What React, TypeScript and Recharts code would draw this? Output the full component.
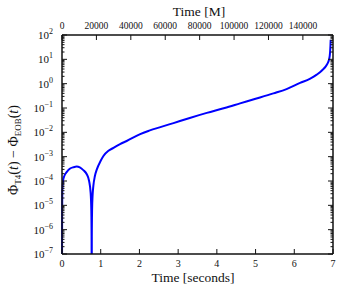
import { LineChart, Line, XAxis, YAxis } from "recharts";

// phase difference between T4 and EOB waveforms
const timeSec = [
  0, 0.003, 0.01, 0.03, 0.06, 0.12, 0.2, 0.3, 0.38, 0.46, 0.55, 0.64, 0.7, 0.74, 0.757, 0.764, 0.767,
  0.77, 0.777, 0.79, 0.81, 0.85, 0.9, 1.0, 1.07, 1.2, 1.33, 1.5, 1.67, 2.02, 2.27, 2.88, 3.3, 3.74, 4.2,
  4.6, 5.0, 5.46, 5.8, 6.15, 6.4, 6.58, 6.72, 6.84, 6.9, 6.925, 6.935, 6.94,
];
const phaseDiff = [
  1e-9, 3.2e-6, 4.5e-5, 1.1e-4, 1.6e-4, 2.3e-4, 3.2e-4, 3.7e-4, 3.9e-4, 3.6e-4, 2.8e-4, 1.9e-4, 1e-4,
  3.2e-5, 6.3e-6, 5e-7, 1e-9, 5e-7, 6.3e-6, 2.5e-5, 6.3e-5, 1.6e-4, 3e-4, 6.8e-4, 1.07e-3, 1.74e-3,
  2.3e-3, 3.3e-3, 4.4e-3, 8.5e-3, 0.012, 0.024, 0.039, 0.063, 0.1, 0.155, 0.24, 0.4, 0.6, 1.07, 1.58,
  2.34, 3.55, 6.0, 10, 20, 40, 63,
];

const secondsTicks = [0, 1, 2, 3, 4, 5, 6, 7];
const massTicks = [0, 20000, 40000, 60000, 80000, 100000, 120000, 140000];
const M_PER_SEC = 22500;
const decadeExps = [-7, -6, -5, -4, -3, -2, -1, 0, 1, 2];

const data = timeSec.map((t, i) => ({ t, d: phaseDiff[i] }));
const majorTicks = decadeExps.map((e) => parseFloat(`1e${e}`));
const minorTicks: number[] = [];
decadeExps.slice(0, -1).forEach((e) => {
  for (let k = 2; k <= 9; k++) minorTicks.push(parseFloat(`${k}e${e}`));
});
const logTicks = [...majorTicks, ...minorTicks];

const SERIF = "Liberation Serif, DejaVu Serif, serif";
const INK = "#111";

const isMajor = (v: number) => {
  const lg = Math.log10(v);
  return Math.abs(lg - Math.round(lg)) < 1e-6;
};

function LeftTick({ x, y, payload }: any) {
  const v = payload.value;
  const exp = Math.round(Math.log10(v));
  const major = isMajor(v);
  return (
    <g>
      <line x1={x} x2={x + (major ? 5 : 2.5)} y1={y} y2={y} stroke={INK} strokeWidth={1} />
      {major && (
        <text x={x - 9} y={y + 4} textAnchor="end" fontFamily={SERIF} fontSize={11} fill={INK}>
          10
          <tspan dy={-5} fontSize={8}>
            {exp < 0 ? `\u2212${-exp}` : exp}
          </tspan>
        </text>
      )}
    </g>
  );
}

function RightTick({ x, y, payload }: any) {
  const major = isMajor(payload.value);
  return <line x1={x} x2={x - (major ? 5 : 2.5)} y1={y} y2={y} stroke={INK} strokeWidth={1} />;
}

function BottomTick({ x, y, payload }: any) {
  return (
    <g>
      <line x1={x} x2={x} y1={y} y2={y - 5} stroke={INK} strokeWidth={1} />
      <text x={x} y={y + 13} textAnchor="middle" fontFamily={SERIF} fontSize={10} fill={INK}>
        {payload.value}
      </text>
    </g>
  );
}

function TopTick({ x, y, payload }: any) {
  const m = Math.round(payload.value * M_PER_SEC);
  return (
    <g>
      <line x1={x} x2={x} y1={y} y2={y + 5} stroke={INK} strokeWidth={1} />
      <text x={x} y={y - 6} textAnchor="middle" fontFamily={SERIF} fontSize={9.5} fill={INK}>
        {m}
      </text>
    </g>
  );
}

const axisLine = { stroke: INK, strokeWidth: 1.5 };

export default function App() {
  return (
    <div style={{ position: "absolute", left: 0, top: 0, width: 355, height: 291, background: "#fff" }}>
      <LineChart width={355} height={291} data={data} margin={{ top: 0, right: 0, bottom: 0, left: 0 }}>
        <XAxis
          xAxisId="bottom"
          dataKey="t"
          type="number"
          domain={[0, 7]}
          ticks={secondsTicks}
          interval={0}
          height={37}
          tickSize={0}
          tickMargin={0}
          tickLine={false}
          axisLine={axisLine}
          tick={<BottomTick />}
        />
        <XAxis
          xAxisId="top"
          orientation="top"
          dataKey="t"
          type="number"
          domain={[0, 7]}
          ticks={massTicks.map((m) => m / M_PER_SEC)}
          interval={0}
          height={35}
          tickSize={0}
          tickMargin={0}
          tickLine={false}
          axisLine={axisLine}
          tick={<TopTick />}
        />
        <YAxis
          yAxisId="left"
          scale="log"
          type="number"
          domain={[1e-7, 100]}
          allowDataOverflow
          ticks={logTicks}
          interval={0}
          width={62}
          tickSize={0}
          tickMargin={0}
          tickLine={false}
          axisLine={axisLine}
          tick={<LeftTick />}
        />
        <YAxis
          yAxisId="right"
          orientation="right"
          scale="log"
          type="number"
          domain={[1e-7, 100]}
          allowDataOverflow
          ticks={logTicks}
          interval={0}
          width={22}
          tickSize={0}
          tickMargin={0}
          tickLine={false}
          axisLine={axisLine}
          tick={<RightTick />}
        />
        <Line
          xAxisId="top"
          yAxisId="right"
          dataKey="d"
          stroke="none"
          dot={false}
          activeDot={false}
          isAnimationActive={false}
        />
        <Line
          xAxisId="bottom"
          yAxisId="left"
          dataKey="d"
          type="monotone"
          stroke="#0000ff"
          strokeWidth={2}
          dot={false}
          activeDot={false}
          isAnimationActive={false}
        />
      </LineChart>
      <svg
        width={355}
        height={291}
        style={{ position: "absolute", left: 0, top: 0, pointerEvents: "none" }}
        fontFamily={SERIF}
        fill={INK}
      >
        <text x={199} y={16} textAnchor="middle" fontSize={13.5}>
          Time [M]
        </text>
        <text x={193} y={282} textAnchor="middle" fontSize={13.5}>
          Time [seconds]
        </text>
        <text transform="translate(18,150) rotate(-90)" textAnchor="middle" fontSize={14}>
          Φ
          <tspan dy={3} fontSize={9}>
            T4
          </tspan>
          <tspan dy={-3}>(</tspan>
          <tspan fontStyle="italic">t</tspan>
          <tspan>) − Φ</tspan>
          <tspan dy={3} fontSize={9}>
            EOB
          </tspan>
          <tspan dy={-3}>(</tspan>
          <tspan fontStyle="italic">t</tspan>
          <tspan>)</tspan>
        </text>
      </svg>
    </div>
  );
}
